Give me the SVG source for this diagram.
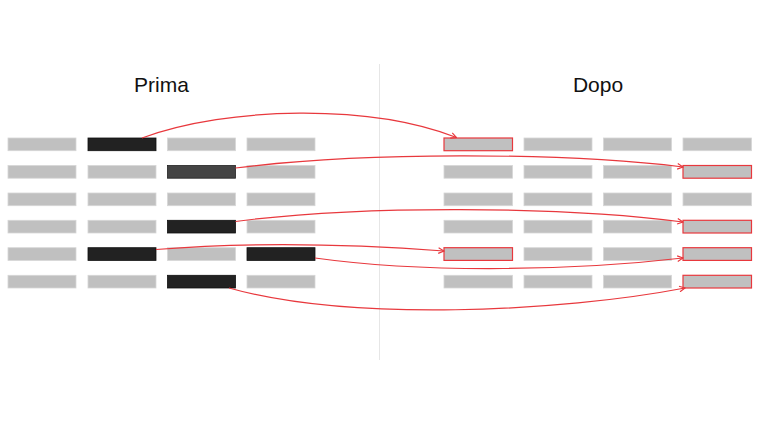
<svg xmlns="http://www.w3.org/2000/svg" width="760" height="427" viewBox="0 0 760 427">
<style>
.c{fill:#c0c0c0;stroke:#d6d6d6;stroke-width:0.8}
.d{fill:#222;stroke:#111;stroke-width:0.8}
.m{fill:#444;stroke:#222;stroke-width:0.8}
.r{fill:#c0c0c0;stroke:#e8383d;stroke-width:1.2}
.t{font-family:"Liberation Sans",Arial,sans-serif;font-size:21px;fill:#111;text-anchor:middle}
.a{fill:none;stroke:#e8383d;stroke-width:1.2;marker-end:url(#ah)}
</style>
<defs>
<marker id="ah" viewBox="0 0 10 10" refX="9" refY="5" markerWidth="7" markerHeight="7" orient="auto" markerUnits="userSpaceOnUse">
<path d="M1,1 L9,5 L1,9" fill="none" stroke="#e8383d" stroke-width="1.6"/>
</marker>
</defs>
<rect width="760" height="427" fill="#fff"/>
<line x1="379.5" y1="64" x2="379.5" y2="360" stroke="#e6e6e6" stroke-width="1"/>
<text class="t" x="161.5" y="91.5">Prima</text>
<text class="t" x="598" y="91.5">Dopo</text>
<g id="left">
<g id="L1"><rect class="c" x="8" y="138" width="68" height="12.7"/><rect class="d" x="88" y="138" width="68" height="12.7"/><rect class="c" x="167.5" y="138" width="68" height="12.7"/><rect class="c" x="247" y="138" width="68" height="12.7"/></g>
<g id="L2"><rect class="c" x="8" y="165.5" width="68" height="12.7"/><rect class="c" x="88" y="165.5" width="68" height="12.7"/><rect class="m" x="167.5" y="165.5" width="68" height="12.7"/><rect class="c" x="247" y="165.5" width="68" height="12.7"/></g>
<g id="L3"><rect class="c" x="8" y="193" width="68" height="12.7"/><rect class="c" x="88" y="193" width="68" height="12.7"/><rect class="c" x="167.5" y="193" width="68" height="12.7"/><rect class="c" x="247" y="193" width="68" height="12.7"/></g>
<g id="L4"><rect class="c" x="8" y="220.3" width="68" height="12.7"/><rect class="c" x="88" y="220.3" width="68" height="12.7"/><rect class="d" x="167.5" y="220.3" width="68" height="12.7"/><rect class="c" x="247" y="220.3" width="68" height="12.7"/></g>
<g id="L5"><rect class="c" x="8" y="247.7" width="68" height="12.7"/><rect class="d" x="88" y="247.7" width="68" height="12.7"/><rect class="c" x="167.5" y="247.7" width="68" height="12.7"/><rect class="d" x="247" y="247.7" width="68" height="12.7"/></g>
<g id="L6"><rect class="c" x="8" y="275.3" width="68" height="12.7"/><rect class="c" x="88" y="275.3" width="68" height="12.7"/><rect class="d" x="167.5" y="275.3" width="68" height="12.7"/><rect class="c" x="247" y="275.3" width="68" height="12.7"/></g>
</g>
<g id="right">
<g id="R1"><rect class="r" x="444" y="138" width="68.5" height="12.7"/><rect class="c" x="524" y="138" width="68" height="12.7"/><rect class="c" x="603.5" y="138" width="68" height="12.7"/><rect class="c" x="683" y="138" width="68.5" height="12.7"/></g>
<g id="R2"><rect class="c" x="444" y="165.5" width="68.5" height="12.7"/><rect class="c" x="524" y="165.5" width="68" height="12.7"/><rect class="c" x="603.5" y="165.5" width="68" height="12.7"/><rect class="r" x="683" y="165.5" width="68.5" height="12.7"/></g>
<g id="R3"><rect class="c" x="444" y="193" width="68.5" height="12.7"/><rect class="c" x="524" y="193" width="68" height="12.7"/><rect class="c" x="603.5" y="193" width="68" height="12.7"/><rect class="c" x="683" y="193" width="68.5" height="12.7"/></g>
<g id="R4"><rect class="c" x="444" y="220.3" width="68.5" height="12.7"/><rect class="c" x="524" y="220.3" width="68" height="12.7"/><rect class="c" x="603.5" y="220.3" width="68" height="12.7"/><rect class="r" x="683" y="220.3" width="68.5" height="12.7"/></g>
<g id="R5"><rect class="r" x="444" y="247.7" width="68.5" height="12.7"/><rect class="c" x="524" y="247.7" width="68" height="12.7"/><rect class="c" x="603.5" y="247.7" width="68" height="12.7"/><rect class="r" x="683" y="247.7" width="68.5" height="12.7"/></g>
<g id="R6"><rect class="c" x="444" y="275.3" width="68.5" height="12.7"/><rect class="c" x="524" y="275.3" width="68" height="12.7"/><rect class="c" x="603.5" y="275.3" width="68" height="12.7"/><rect class="r" x="683" y="275.3" width="68.5" height="12.7"/></g>
</g>
<g id="connectors">
<path class="a" d="M142,138 C230,106 370,104 456.5,137.5"/>
<path class="a" d="M235.5,168 C360,152 560,152 683,167"/>
<path class="a" d="M235.5,221.5 C360,205 560,206 683,222"/>
<path class="a" d="M156,249.5 C250,242 350,244 444,251"/>
<path class="a" d="M315,258 C430,274 580,270 683,258"/>
<path class="a" d="M229,288 C350,322 560,312 685,288"/>
</g>
</svg>
